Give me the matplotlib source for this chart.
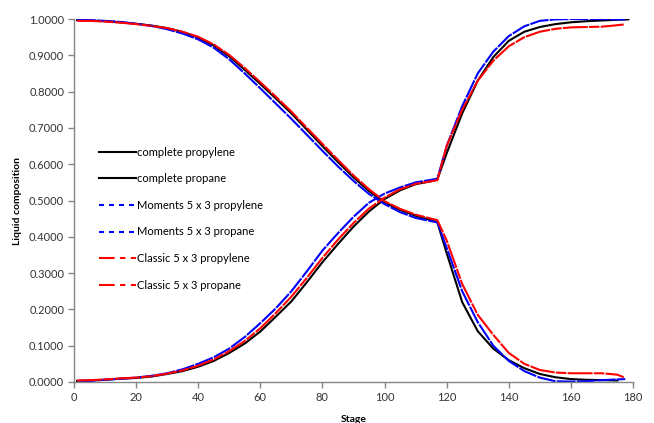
import matplotlib
matplotlib.use("Agg")
import matplotlib.pyplot as plt
from matplotlib.lines import Line2D
from matplotlib.ticker import FormatStrFormatter, MultipleLocator

plt.rcParams['font.family'] = ['Lato', 'DejaVu Sans']

# Stage grid shared by all profiles (the last stage differs per series)
stages = [1, 5, 10, 15, 20, 25, 30, 35, 40, 45, 50, 55, 60, 65, 70, 75, 80,
          85, 90, 95, 100, 105, 110, 115, 117, 120, 125, 130, 135, 140, 145,
          150, 155, 160, 165, 170, 175]

# Complete model
complete_propylene = [0.997, 0.996, 0.994, 0.991, 0.987, 0.982, 0.975, 0.964,
                      0.949, 0.927, 0.897, 0.860, 0.821, 0.781, 0.740, 0.695,
                      0.650, 0.606, 0.564, 0.526, 0.495, 0.474, 0.458, 0.446,
                      0.440, 0.355, 0.220, 0.140, 0.092, 0.060, 0.038, 0.022,
                      0.013, 0.008, 0.006, 0.005, 0.004]
complete_propane = [0.003, 0.004, 0.006, 0.009, 0.011, 0.015, 0.022, 0.030,
                    0.042, 0.058, 0.080, 0.106, 0.139, 0.180, 0.222, 0.275,
                    0.330, 0.380, 0.428, 0.470, 0.504, 0.528, 0.545, 0.553,
                    0.558, 0.630, 0.740, 0.830, 0.895, 0.940, 0.965, 0.978,
                    0.986, 0.991, 0.994, 0.996, 0.998]
complete_propane_end = (178.5, 0.999)

# Moments 5 x 3 model
moments_propylene = [0.998, 0.997, 0.995, 0.992, 0.987, 0.981, 0.972, 0.960,
                     0.944, 0.921, 0.889, 0.850, 0.809, 0.767, 0.725, 0.681,
                     0.637, 0.594, 0.554, 0.518, 0.490, 0.468, 0.452, 0.443,
                     0.440, 0.370, 0.250, 0.165, 0.100, 0.058, 0.030, 0.012,
                     0.002, 0.001, 0.002, 0.005, 0.007]
moments_propane = [0.002, 0.003, 0.006, 0.009, 0.012, 0.017, 0.024, 0.035,
                   0.050, 0.068, 0.092, 0.124, 0.162, 0.203, 0.250, 0.305,
                   0.362, 0.410, 0.455, 0.494, 0.519, 0.536, 0.550, 0.557,
                   0.560, 0.650, 0.760, 0.850, 0.910, 0.953, 0.980, 0.995,
                   0.999, 1.000, 1.000, 1.000, 0.999]
moments_end = 177.5

# Classic 5 x 3 model
classic_propylene = [0.995, 0.995, 0.993, 0.990, 0.986, 0.981, 0.975, 0.965,
                     0.951, 0.930, 0.901, 0.865, 0.826, 0.786, 0.745, 0.700,
                     0.656, 0.612, 0.569, 0.531, 0.498, 0.477, 0.461, 0.450,
                     0.446, 0.390, 0.270, 0.185, 0.130, 0.080, 0.050, 0.033,
                     0.026, 0.024, 0.024, 0.024, 0.020]
classic_propane = [0.004, 0.005, 0.007, 0.010, 0.012, 0.016, 0.023, 0.032,
                   0.045, 0.062, 0.085, 0.113, 0.148, 0.190, 0.235, 0.287,
                   0.342, 0.392, 0.438, 0.478, 0.508, 0.531, 0.546, 0.553,
                   0.556, 0.650, 0.750, 0.830, 0.885, 0.925, 0.950, 0.965,
                   0.973, 0.977, 0.978, 0.979, 0.983]
classic_end = (177.0, 0.013, 0.985)

labels = ["complete propylene", "complete propane",
          "Moments 5 x 3 propylene", "Moments 5 x 3 propane",
          "Classic 5 x 3 propylene", "Classic 5 x 3 propane"]

fig = plt.figure(figsize=(6.54, 4.23), dpi=100)
ax = fig.add_axes([0.1131, 0.097, 0.8548, 0.858])

lw = 1.5
blue_ls = (0, (9, 0.6))
red_ls = (0, (12, 0.6, 5, 0.6))
# complete: solid black
ax.plot(stages, complete_propylene, color="black", lw=lw)
ax.plot(stages + [complete_propane_end[0]],
        complete_propane + [complete_propane_end[1]], color="black", lw=lw)
# moments: blue
ax.plot(stages + [moments_end], moments_propylene + [0.008], color="#0000ff",
        lw=lw, linestyle=blue_ls)
ax.plot(stages + [moments_end], moments_propane + [0.999], color="#0000ff",
        lw=lw, linestyle=blue_ls)
# classic: red
ax.plot(stages + [classic_end[0]], classic_propylene + [classic_end[1]],
        color="#ff0000", lw=lw, linestyle=red_ls)
ax.plot(stages + [classic_end[0]], classic_propane + [classic_end[2]],
        color="#ff0000", lw=lw, linestyle=red_ls)

ax.set_xlim(0, 180)
ax.set_ylim(0, 1.0)
ax.xaxis.set_major_locator(MultipleLocator(20))
ax.yaxis.set_major_locator(MultipleLocator(0.1))
ax.yaxis.set_major_formatter(FormatStrFormatter("%.4f"))

spine_c = "#868686"
for s in ["top", "right"]:
    ax.spines[s].set_visible(False)
for s in ["left", "bottom"]:
    ax.spines[s].set_color(spine_c)
    ax.spines[s].set_linewidth(1.0)
ax.tick_params(axis="both", direction="out", length=4, width=1.0,
               color=spine_c, labelsize=8, labelcolor="#333333", pad=3)

ax.set_xlabel("Stage", fontsize=7.5, fontweight="bold", labelpad=9)
ax.set_ylabel("Liquid composition", fontsize=7.5, fontweight="bold", labelpad=5)

# legend with dashed handles
handles = [
    Line2D([], [], color="black", lw=lw),
    Line2D([], [], color="black", lw=lw),
    Line2D([], [], color="#0000ff", lw=lw, linestyle=(0, (2.4, 2.4))),
    Line2D([], [], color="#0000ff", lw=lw, linestyle=(0, (2.4, 2.4))),
    Line2D([], [], color="#ff0000", lw=lw, linestyle=(0, (7.5, 2.6, 2.6, 2.6))),
    Line2D([], [], color="#ff0000", lw=lw, linestyle=(0, (7.5, 2.6, 2.6, 2.6))),
]
ax.legend(handles, labels, loc="upper left", bbox_to_anchor=(0.045, 0.648),
          frameon=False, fontsize=8, handlelength=3.3, handletextpad=0.1,
          labelspacing=1.40, borderpad=0, borderaxespad=0)

fig.savefig("out.png", dpi=100)
